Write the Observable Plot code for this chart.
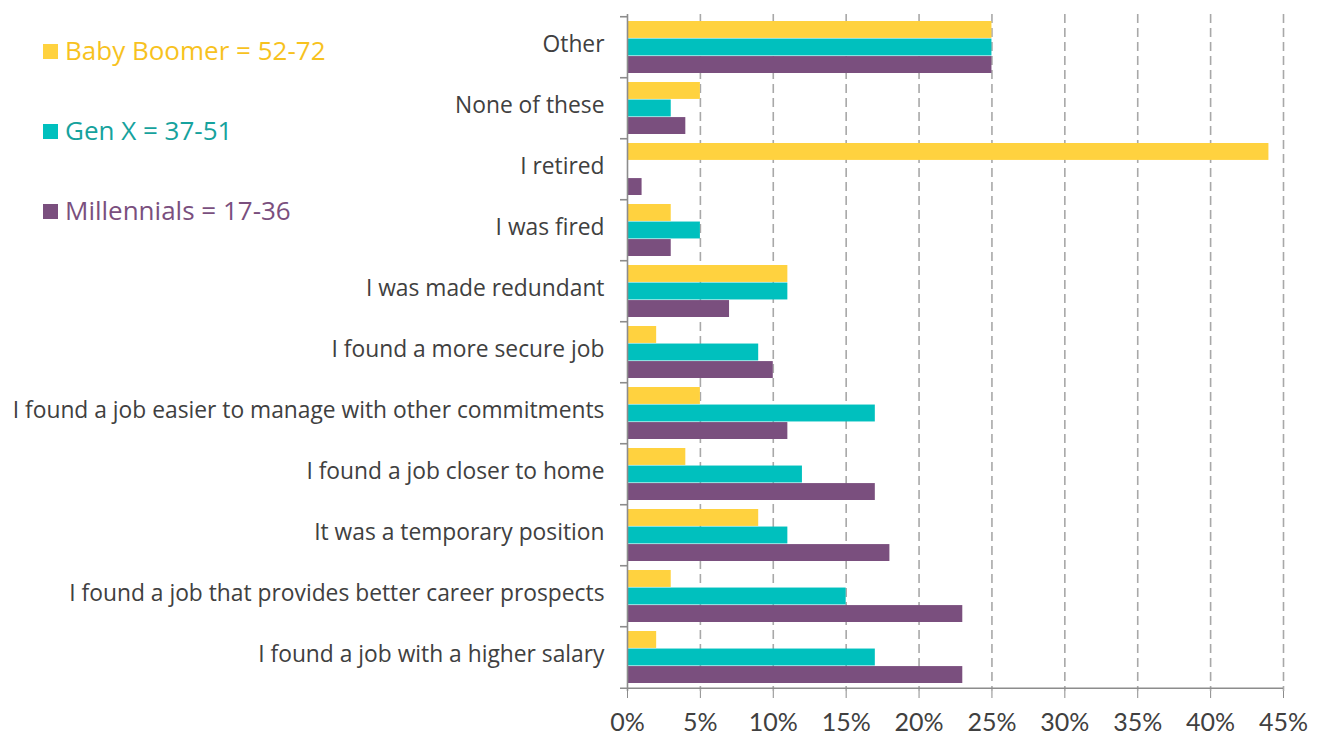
<!DOCTYPE html>
<html>
<head>
<meta charset="utf-8">
<script src="https://cdn.jsdelivr.net/npm/d3@7"></script>
<script src="https://cdn.jsdelivr.net/npm/@observablehq/plot@0.6"></script>
<style>
  body { margin: 0; background: #fff; font-family: "Open Sans", Lato, sans-serif; }
  #wrap { position: relative; width: 1322px; height: 735px; }
  #legend { position: absolute; left: 43px; top: 30px; font-size: 26px; }
  .item { display: flex; align-items: center; height: 40px; margin-bottom: 40px; }
  .sw { width: 15px; height: 15px; margin-right: 7px; margin-top: 3px; }
</style>
</head>
<body>
<div id="wrap"><div id="legend"></div></div>
<script>
const categories = [
  "Other",
  "None of these",
  "I retired",
  "I was fired",
  "I was made redundant",
  "I found a more secure job",
  "I found a job easier to manage with other commitments",
  "I found a job closer to home",
  "It was a temporary position",
  "I found a job that provides better career prospects",
  "I found a job with a higher salary"
];
const seriesNames = ["Baby Boomer = 52-72", "Gen X = 37-51", "Millennials = 17-36"];
const babyBoomer  = [25, 5, 44, 3, 11, 2, 5, 4, 9, 3, 2];
const genX        = [25, 3, 0, 5, 11, 9, 17, 12, 11, 15, 17];
const millennials = [25, 4, 1, 3, 7, 10, 11, 17, 18, 23, 23];
const xTicks = [0, 5, 10, 15, 20, 25, 30, 35, 40, 45];

const barColors = ["#FFD23F", "#00C0BE", "#7A4F7E"];
const textColors = ["#F7C21E", "#16A29D", "#7A4F7E"];

const seriesValues = [babyBoomer, genX, millennials];
const rows = seriesValues.map(vals => categories.map((c, i) => ({category: c, value: vals[i]})));

const W = 1322, H = 735, mt = 14, mb = 44, ml = 627, mr = 39;
const pad = 0.145;
const step = (H - mt - mb) / categories.length;
const bw = step * (1 - pad);
const third = bw / 3;
const axisGray = "#8C8C8C";

const marks = [
  Plot.ruleX(xTicks.filter(d => d > 0), {stroke: "#A8A8A8", strokeWidth: 1.6, strokeDasharray: "9,5"}),
  ...rows.map((data, i) => Plot.barX(data, {
    y: "category", x: "value", fill: barColors[i],
    insetTop: i * third, insetBottom: (2 - i) * third
  })),
  Plot.ruleX([0], {stroke: axisGray, strokeWidth: 1.6}),
  Plot.ruleY(categories, {y: d => d, x1: 0, x2: 0, insetLeft: -7, dy: -step / 2, stroke: axisGray, strokeWidth: 1.6}),
  Plot.ruleY(categories.slice(-1), {y: d => d, x1: 0, x2: 45, insetLeft: -7, dy: step / 2, stroke: axisGray, strokeWidth: 1.6}),
  Plot.axisY({tickSize: 0, tickPadding: 23, fontSize: 22.8, dy: -2.5, color: "#404040", fontFamily: "'Open Sans', sans-serif"}),
  Plot.axisX({ticks: xTicks, tickFormat: d => d + "%", tickSize: 7, tickPadding: 15, fontSize: 25, color: "#404040", stroke: axisGray, fontFamily: "Lato, sans-serif"})
];

const chart = Plot.plot({
  width: W, height: H,
  marginTop: mt, marginBottom: mb, marginLeft: ml, marginRight: mr,
  style: {fontFamily: "'Open Sans', sans-serif", color: "#404040", background: "#fff", overflow: "visible"},
  x: {domain: [0, 45], label: null},
  y: {domain: categories, paddingInner: pad, paddingOuter: pad / 2, label: null, axis: null},
  marks
});
document.getElementById("wrap").prepend(chart);

const legend = document.getElementById("legend");
seriesNames.forEach((name, i) => {
  const item = document.createElement("div");
  item.className = "item";
  const sw = document.createElement("div");
  sw.className = "sw";
  sw.style.background = barColors[i];
  const t = document.createElement("span");
  t.textContent = name;
  t.style.color = textColors[i];
  item.appendChild(sw);
  item.appendChild(t);
  legend.appendChild(item);
});
</script>
</body>
</html>
